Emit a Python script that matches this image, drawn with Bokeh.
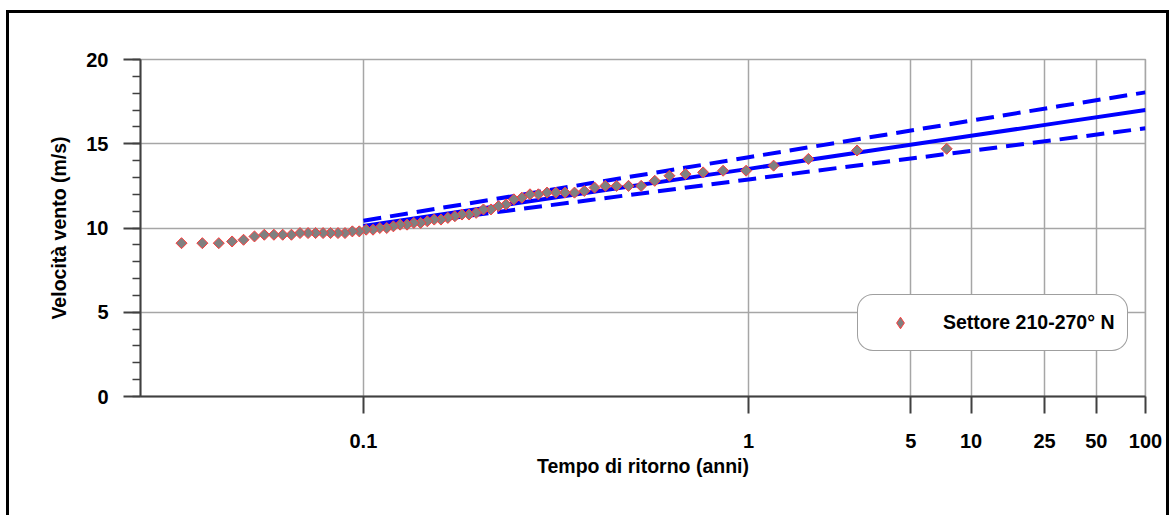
import numpy as np
from bokeh.plotting import figure
from bokeh.models import (FixedTicker, Range1d, ColumnDataSource, Legend, LegendItem,
                          SingleIntervalTicker)
from bokeh.embed import file_html
from bokeh.resources import INLINE

# ---------------- data ----------------
# return period (years) of each ranked observation and its wind speed (m/s)
return_period = [7.5, 2.81, 1.731, 1.25, 0.9783, 0.8036, 0.6818, 0.5921, 0.5233, 0.4688,
                 0.4245, 0.3879, 0.3571, 0.3309, 0.3082, 0.2885, 0.2711, 0.2557, 0.2419, 0.2296,
                 0.2184, 0.2083, 0.1991, 0.1907, 0.1829, 0.1758, 0.1692, 0.1630, 0.1573, 0.1520,
                 0.1471, 0.1424, 0.1380, 0.1339, 0.1301, 0.1264, 0.1230, 0.1197, 0.1166, 0.1136,
                 0.1108, 0.1082, 0.1056, 0.1032, 0.1009, 0.0987, 0.0966, 0.0945, 0.0926, 0.0907,
                 0.0889, 0.0872, 0.0856, 0.0840, 0.0824, 0.0809, 0.0795, 0.0781, 0.0768, 0.0755,
                 0.0743, 0.0731, 0.0719, 0.0708]
wind_speed = [14.7, 14.6, 14.1, 13.7, 13.4, 13.4, 13.3, 13.2, 13.1, 12.8,
              12.5, 12.5, 12.5, 12.5, 12.4, 12.2, 12.1, 12.1, 12.1, 12.1,
              12.0, 12.0, 11.8, 11.7, 11.4, 11.3, 11.1, 11.1, 10.9, 10.8,
              10.8, 10.7, 10.6, 10.5, 10.5, 10.4, 10.3, 10.3, 10.2, 10.2,
              10.1, 10.0, 10.0, 9.9, 9.9, 9.8, 9.8, 9.7, 9.7, 9.7,
              9.7, 9.7, 9.7, 9.7, 9.6, 9.6, 9.6, 9.6, 9.5, 9.3,
              9.2, 9.1, 9.1, 9.1]

# fitted distribution and its confidence band
fit_period = [0.1, 0.3, 1, 3, 10, 30, 100]
fit_speed = [10.12, 12.12, 13.51, 14.52, 15.47, 16.24, 17.00]
fit_upper = [10.43, 12.65, 14.20, 15.32, 16.37, 17.22, 18.05]
fit_lower = [9.92, 11.66, 12.88, 13.76, 14.58, 15.25, 15.92]

tick_periods = [0.1, 1, 5, 10, 25, 50, 100]
tick_labels = ["0.1", "1", "5", "10", "25", "50", "100"]

series_label = "Settore 210-270° N"
x_title = "Tempo di ritorno (anni)"
y_title = "Velocità vento (m/s)"

# ---------------- probability-paper scale for the return period ----------------
C = 2.66  # log of the mean number of events per year


def scale_x(t):
    return np.sqrt(np.log(np.asarray(t, dtype=float)) + C)


FONT = "Liberation Sans"

tick_pos = [round(float(v), 6) for v in scale_x(tick_periods)]
x_end = tick_pos[-1] + 1e-9

p = figure(width=1163, height=505, output_backend="svg", toolbar_location=None,
           x_range=Range1d(0, x_end), y_range=Range1d(0, 20),
           min_border_left=134, min_border_right=24, min_border_top=49,
           min_border_bottom=119)
p.styles = {"margin-left": "6px", "margin-top": "10px",
            "box-shadow": "inset 3px 3px 0 0 #000000, inset -3px 0 0 0 #000000"}

p.background_fill_color = "white"
p.border_fill_color = None
p.outline_line_color = "#a6a6a6"
p.outline_line_width = 1.5

p.xaxis.ticker = FixedTicker(ticks=tick_pos, minor_ticks=[])
p.xaxis.major_label_overrides = {tp: lab for tp, lab in zip(tick_pos, tick_labels)}
p.xgrid.ticker = FixedTicker(ticks=tick_pos, minor_ticks=[])
p.yaxis.ticker = SingleIntervalTicker(interval=5, num_minor_ticks=5)

for g in (p.xgrid, p.ygrid):
    g.grid_line_color = "#a6a6a6"
    g.grid_line_width = 1.5

for ax in (p.xaxis, p.yaxis):
    ax.axis_line_color = "#404040"
    ax.axis_line_width = 2
    ax.major_tick_line_color = "#404040"
    ax.major_tick_line_width = 2
    ax.minor_tick_line_color = "#404040"
    ax.minor_tick_line_width = 1.5
    ax.major_tick_in = 0
    ax.major_tick_out = 17
    ax.minor_tick_in = 0
    ax.minor_tick_out = 8
    ax.major_label_text_font = FONT
    ax.major_label_text_font_style = "bold"
    ax.major_label_text_font_size = "20px"
    ax.major_label_text_color = "black"
    ax.axis_label_text_font = FONT
    ax.axis_label_text_font_style = "bold"
    ax.axis_label_text_font_size = "19.5px"
    ax.axis_label_text_color = "black"

p.xaxis.major_label_standoff = 20
p.yaxis.major_label_standoff = 15
p.xaxis.axis_label = x_title
p.yaxis.axis_label = y_title
p.xaxis.axis_label_standoff = 4
p.yaxis.axis_label_standoff = 13

gx_fit = scale_x(fit_period)
p.line(gx_fit, fit_upper, line_color="#0000ff", line_width=4, line_dash="18 9")
p.line(gx_fit, fit_lower, line_color="#0000ff", line_width=4, line_dash="18 9")
p.line(gx_fit, fit_speed, line_color="#0000ff", line_width=4)

src = ColumnDataSource(dict(x=scale_x(return_period), y=wind_speed))
sc = p.scatter("x", "y", source=src, marker="square", angle=np.pi / 4, size=7.8,
               fill_color="#808080", line_color="#ff3b3b", line_width=1)

# legend swatch: same styling, drawn as a diamond (legend glyphs ignore the angle);
# it holds no visible point of its own
swatch = p.scatter([float("nan")], [float("nan")], marker="diamond",
                   fill_color="#808080", line_color="#ff3b3b", line_width=1)

legend = Legend(items=[LegendItem(label=series_label, renderers=[swatch])],
                location=(717, 45))
legend.label_text_font = FONT
legend.label_text_font_style = "bold"
legend.label_text_font_size = "19.5px"
legend.label_text_color = "black"
legend.border_line_color = "#404040"
legend.border_line_width = 1.5
legend.background_fill_color = "white"
legend.background_fill_alpha = 1
legend.padding = 13
legend.margin = 0
legend.glyph_width = 58
legend.glyph_height = 29
legend.label_height = 29
legend.label_standoff = 14
if "border_radius" in legend.properties():
    legend.border_radius = 16
p.add_layout(legend)

open("out.html", "w").write(file_html(p, INLINE))
